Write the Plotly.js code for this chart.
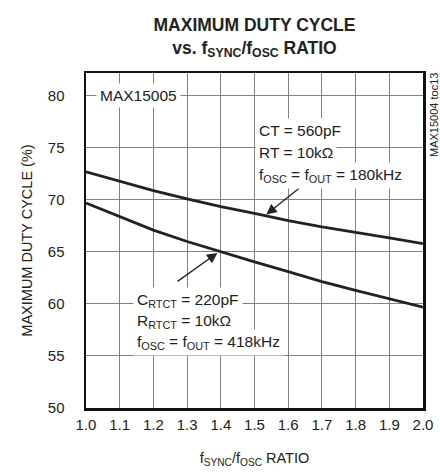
<!DOCTYPE html>
<html>
<head>
<meta charset="utf-8">
<script src="https://cdn.plot.ly/plotly-3.0.1.min.js"></script>
<style>html,body{margin:0;padding:0;background:#fff;}#chart{width:440px;height:472px;}</style>
</head>
<body>
<div id="chart"></div>
<script>
// Data
const ratio = [1.0, 1.1, 1.2, 1.3, 1.4, 1.5, 1.6, 1.7, 1.8, 1.9, 2.0];
const duty180kHz = [72.7, 71.8, 70.9, 70.1, 69.35, 68.7, 68.0, 67.4, 66.9, 66.35, 65.8];
const duty418kHz = [69.7, 68.4, 67.1, 66.0, 65.0, 64.05, 63.1, 62.15, 61.3, 60.5, 59.7];
const xTickVals = [1.0, 1.1, 1.2, 1.3, 1.4, 1.5, 1.6, 1.7, 1.8, 1.9, 2.0];
const xTickText = ['1.0', '1.1', '1.2', '1.3', '1.4', '1.5', '1.6', '1.7', '1.8', '1.9', '2.0'];
const yTickVals = [50, 55, 60, 65, 70, 75, 80];
const yTickText = ['50', '55', '60', '65', '70', '75', '80'];

const FONT = '"Liberation Sans", Arial, Helvetica, sans-serif';
const INK = '#222';

const traces = [
  {x: ratio, y: duty180kHz, mode: 'lines', line: {color: INK, width: 2.8}, hoverinfo: 'skip'},
  {x: ratio, y: duty418kHz, mode: 'lines', line: {color: INK, width: 2.8}, hoverinfo: 'skip'}
];

function label(text, x, y, size) {
  return {text: text, x: x, y: y, xref: 'x', yref: 'y', xanchor: 'left', yanchor: 'middle',
    showarrow: false, align: 'left', bgcolor: '#fff', borderpad: 3,
    font: {family: FONT, size: size || 15.5, color: INK}};
}
function arrow(hx, hy, tx, ty) {
  return {text: ' ', x: hx, y: hy, ax: tx, ay: ty, xref: 'x', yref: 'y', axref: 'x', ayref: 'y',
    showarrow: true, arrowhead: 2, arrowsize: 1.6, arrowwidth: 1.3, arrowcolor: INK,
    standoff: 0, startstandoff: 0, font: {size: 1}};
}

const W = 440, H = 472, ML = 86, MR = 17, MT = 73, MB = 64;
const PW = W - ML - MR, PH = H - MT - MB;

const annotations = [
  label('MAX15005', 1.029, 80),
  label('CT = 560pF', 1.502, 76.64),
  label('RT = 10kΩ', 1.502, 74.53),
  label('f<sub>OSC</sub> = f<sub>OUT</sub> = 180kHz', 1.502, 72.33),
  label('C<sub>RTCT</sub> = 220pF', 1.140, 60.35),
  label('R<sub>RTCT</sub> = 10kΩ', 1.140, 58.33),
  label('f<sub>OSC</sub> = f<sub>OUT</sub> = 418kHz', 1.140, 56.32),
  arrow(1.535, 68.6, 1.635, 71.18),
  arrow(1.39, 64.9, 1.267, 62.07),
  {text: 'MAX15004 toc13', x: (434 - ML) / PW, y: 1 - (115 - MT) / PH, xref: 'paper', yref: 'paper',
   xanchor: 'center', yanchor: 'middle', showarrow: false,
   textangle: -90, font: {family: FONT, size: 11, color: INK}}
];

const layout = {
  width: W, height: H,
  margin: {l: ML, r: MR, t: MT, b: MB, pad: 0},
  paper_bgcolor: '#fff', plot_bgcolor: '#fff',
  showlegend: false,
  font: {family: FONT, color: INK},
  title: {
    text: 'MAXIMUM DUTY CYCLE<br>vs. f<sub>SYNC</sub>/f<sub>OSC</sub> RATIO',
    font: {family: FONT, size: 17.5, color: INK, weight: 'bold'},
    x: (ML + PW / 2) / W, xanchor: 'center', xref: 'container',
    y: 1 - 31 / H, yanchor: 'middle', yref: 'container'
  },
  xaxis: {
    range: [1.0, 2.0], tickvals: xTickVals, ticktext: xTickText, ticks: '',
    showgrid: true, gridcolor: '#828282', gridwidth: 1, zeroline: false,
    showline: true, mirror: true, linecolor: '#111', linewidth: 2.5,
    tickfont: {family: FONT, size: 15, color: INK}, ticklabelstandoff: 1,
    title: {text: 'f<sub>SYNC</sub>/f<sub>OSC</sub> RATIO', font: {family: FONT, size: 14.5, color: INK}, standoff: 22}
  },
  yaxis: {
    range: [50, 82.2], tickvals: yTickVals, ticktext: yTickText, ticks: '',
    showgrid: true, gridcolor: '#828282', gridwidth: 1, zeroline: false,
    showline: true, mirror: true, linecolor: '#111', linewidth: 2.5,
    tickfont: {family: FONT, size: 15, color: INK}, ticklabelstandoff: 16,
    title: {text: 'MAXIMUM DUTY CYCLE (%)', font: {family: FONT, size: 14.5, color: INK}, standoff: 12}
  },
  annotations: annotations
};

Plotly.newPlot('chart', traces, layout, {staticPlot: true, displayModeBar: false});
</script>
</body>
</html>
